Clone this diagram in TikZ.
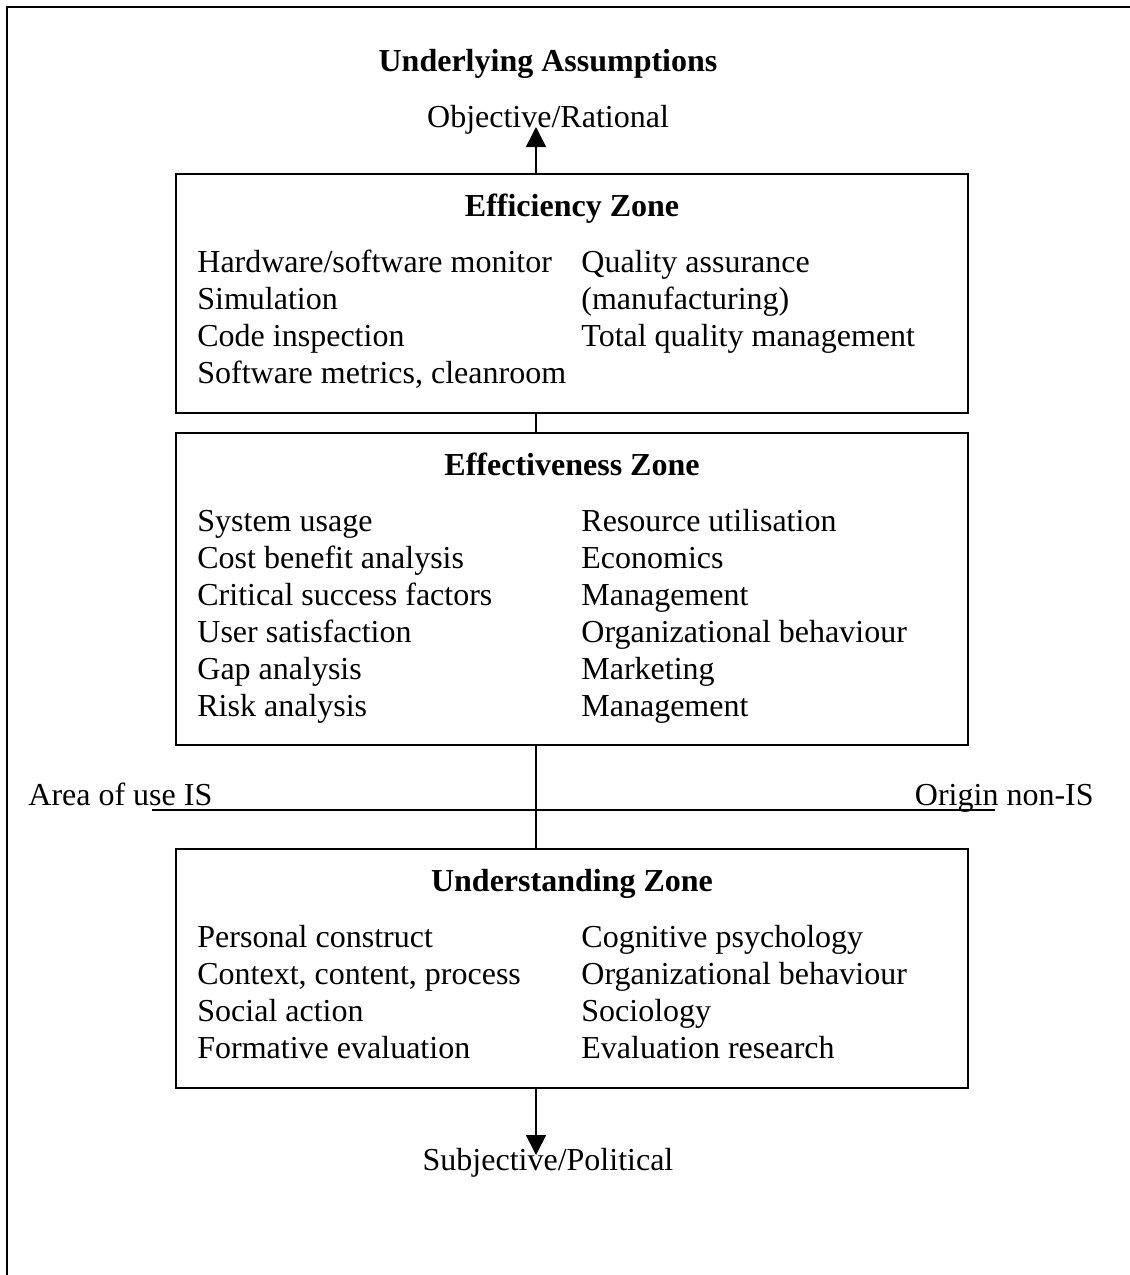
\documentclass[tikz,border=0pt]{standalone}
\usepackage{fontspec}
\setmainfont{Liberation Serif}
\usetikzlibrary{shapes,arrows.meta,fit,positioning}
\def\ZoneW{396pt}
\def\TextSize{\fontsize{16}{18.5}\selectfont}

\begin{document}
\begin{tikzpicture}[x=0.5pt,y=-0.5pt,% one unit = one pixel, y runs downwards
			every node/.style={
				inner sep=0pt,		% text sits exactly where it is placed
				font=\TextSize
			},
			zone/.style={rectangle,draw=black,line width=0.75pt,outer sep=0pt,minimum width=\ZoneW},
			every edge/.style={draw,line width=0.75pt},
			>={Triangle[length=10pt,width=10pt]}
		]
		\useasboundingbox (0,0) rectangle (1130,1275);
		\draw[line width=1pt] (7,1275) -- (7,7) -- (1130,7);

		\node[font=\TextSize\bfseries,anchor=base](Head) at (548,71){Underlying Assumptions};
		\node[anchor=base](Obj) at (548,127){Objective/Rational};
		\node[anchor=base](Subj) at (548,1170){Subjective/Political};

		\node[zone,minimum height=119.5pt,anchor=north](Eff) at (572,174){};
		\node[zone,minimum height=156pt](Efv)[below=10pt of Eff]{};
		\node[zone,minimum height=119.5pt](Und)[below=52pt of Efv]{};

		% efficiency
		\node[font=\TextSize\bfseries,anchor=base](EffT) at ([yshift=-21pt]Eff.north){Efficiency Zone};
		\node[anchor=base west](EffL) at ([xshift=10.5pt,yshift=-49pt]Eff.north west){\begin{tabular}[t]{@{}l@{}}
			Hardware/software monitor\\ Simulation\\ Code inspection\\ Software metrics, cleanroom
		\end{tabular}};
		\node[anchor=base west](EffR) at ([xshift=202.5pt,yshift=-49pt]Eff.north west){\begin{tabular}[t]{@{}l@{}}
			Quality assurance\\ (manufacturing)\\ Total quality management
		\end{tabular}};

		% effectiveness
		\node[font=\TextSize\bfseries,anchor=base](EfvT) at ([yshift=-21pt]Efv.north){Effectiveness Zone};
		\node[anchor=base west](EfvL) at ([xshift=10.5pt,yshift=-49pt]Efv.north west){\begin{tabular}[t]{@{}l@{}}
			System usage\\ Cost benefit analysis\\ Critical success factors\\ User satisfaction\\ Gap analysis\\ Risk analysis
		\end{tabular}};
		\node[anchor=base west](EfvR) at ([xshift=202.5pt,yshift=-49pt]Efv.north west){\begin{tabular}[t]{@{}l@{}}
			Resource utilisation\\ Economics\\ Management\\ Organizational behaviour\\ Marketing\\ Management
		\end{tabular}};

		% understanding
		\node[font=\TextSize\bfseries,anchor=base](UndT) at ([yshift=-21pt]Und.north){Understanding Zone};
		\node[anchor=base west](UndL) at ([xshift=10.5pt,yshift=-49pt]Und.north west){\begin{tabular}[t]{@{}l@{}}
			Personal construct\\ Context, content, process\\ Social action\\ Formative evaluation
		\end{tabular}};
		\node[anchor=base west](UndR) at ([xshift=202.5pt,yshift=-49pt]Und.north west){\begin{tabular}[t]{@{}l@{}}
			Cognitive psychology\\ Organizational behaviour\\ Sociology\\ Evaluation research
		\end{tabular}};

		\node[anchor=base west](UseIS) at (28,805){Area of use IS};
		\node[anchor=base east](NonIS) at (1094,805){Origin non-IS};

		\coordinate (Axis) at (536,0);
		\coordinate (ObjTip) at (536,127);
		\coordinate (SubjTip) at (536,1155);
		\coordinate (HLeft) at (152,810);
		\coordinate (HRight) at (995,810);
		\path[->]
		(Eff.north -| Axis)edge [] (ObjTip)
		(Und.south -| Axis)edge [] (SubjTip)
		;
		\path
		(Eff.south -| Axis)edge [] (Efv.north -| Axis)
		(Efv.south -| Axis)edge [] (Und.north -| Axis)
		(HLeft)edge [] (HRight)
		;
	\end{tikzpicture}
\end{document}
